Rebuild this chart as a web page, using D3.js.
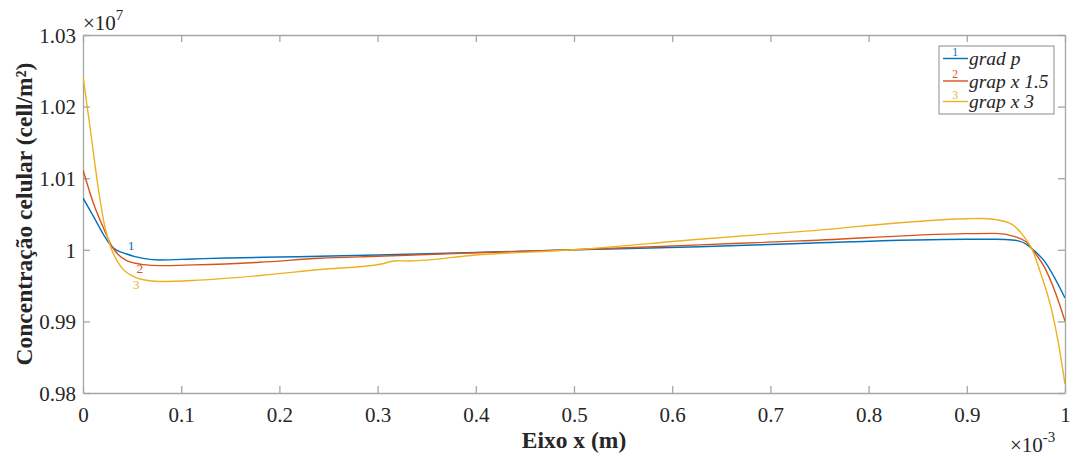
<!DOCTYPE html>
<html>
<head>
<meta charset="utf-8">
<script src="https://cdn.jsdelivr.net/npm/d3@7"></script>
<style>
  body { margin: 0; background: #fff; }
  svg text { font-family: "Liberation Serif", "Times New Roman", serif; fill: #262626; }
</style>
</head>
<body>
<div id="chart"></div>
<script>
// x in units of 1e-3 m, y in units of 1e7 cell/m2
var xTicks = [0, 0.1, 0.2, 0.3, 0.4, 0.5, 0.6, 0.7, 0.8, 0.9, 1];
var yTicks = [0.98, 0.99, 1, 1.01, 1.02, 1.03];
var seriesNames = ["grad p", "grap x 1.5", "grap x 3"];

var gradX = [0, 0.0105, 0.0207, 0.0292, 0.0445, 0.0614, 0.078, 0.112, 0.146, 0.2, 0.241, 0.3, 0.4, 0.5, 0.628, 0.73, 0.9, 0.929, 0.949, 0.963, 0.966, 0.98, 0.99, 1];
var gradY = [1.00724, 1.0047, 1.00217, 1.00047, 0.99941, 0.99881, 0.99858, 0.99872, 0.99885, 0.99899, 0.99909, 0.99927, 0.99962, 1.0, 1.00042, 1.00088, 1.00148, 1.00148, 1.00134, 1.00055, 1.00019, 0.99825, 0.99594, 0.99327];

var g15X = [0, 0.0105, 0.0207, 0.0292, 0.0445, 0.0614, 0.078, 0.112, 0.18, 0.241, 0.3, 0.4, 0.5, 0.628, 0.73, 0.9, 0.929, 0.949, 0.963, 0.966, 0.98, 0.99, 1];
var g15Y = [1.01115, 1.00655, 1.00309, 1.00055, 0.99848, 0.99793, 0.99779, 0.99789, 0.99826, 0.99881, 0.9991, 0.99958, 1.0, 1.00069, 1.00124, 1.00226, 1.0023, 1.00184, 1.00078, 1.00019, 0.99733, 0.99411, 0.99006];

var g3X = [0, 0.0085, 0.0153, 0.0221, 0.0289, 0.039, 0.0526, 0.0614, 0.078, 0.112, 0.18, 0.241, 0.304, 0.319, 0.332, 0.4, 0.5, 0.628, 0.73, 0.9, 0.915, 0.929, 0.946, 0.959, 0.966, 0.976, 0.986, 0.993, 1];
var g3Y = [1.02427, 1.01575, 1.00884, 1.00331, 1.0001, 0.99757, 0.99619, 0.99581, 0.99558, 0.99572, 0.99641, 0.99724, 0.99802, 0.99848, 0.99844, 0.99927, 1.0, 1.00148, 1.00254, 1.00434, 1.00438, 1.00424, 1.00355, 1.0017, 1.00019, 0.99641, 0.99181, 0.98721, 0.98122];

var colors = ["#0072BD", "#D95319", "#EDB120"];

var width = 1073, height = 456;
// plot box edges
var pLeft = 83, pRight = 1065, pTop = 35, pBottom = 393;

var svg = d3.select("#chart").append("svg")
  .attr("width", width)
  .attr("height", height);

var x = d3.scaleLinear().domain([0, 1]).range([pLeft, pRight]);
var y = d3.scaleLinear().domain([0.98, 1.03]).range([pBottom, pTop]);

var axisColor = "#a6a6a6";
var tickLen = 7;

// axes (box with ticks on all four sides)
var xAxis = svg.append("g")
  .attr("transform", "translate(0," + pBottom + ")")
  .call(d3.axisBottom(x).tickValues(xTicks).tickSizeInner(-tickLen).tickSizeOuter(0).tickFormat(d3.format("")));
var yAxis = svg.append("g")
  .attr("transform", "translate(" + pLeft + ",0)")
  .call(d3.axisLeft(y).tickValues(yTicks).tickSizeInner(-tickLen).tickSizeOuter(0).tickPadding(7).tickFormat(function(d) { return d3.format("")(+d.toFixed(2)); }));
svg.append("g")
  .attr("transform", "translate(0," + pTop + ")")
  .call(d3.axisTop(x).tickValues(xTicks).tickSizeInner(-tickLen).tickSizeOuter(0).tickFormat(""));
svg.append("g")
  .attr("transform", "translate(" + pRight + ",0)")
  .call(d3.axisRight(y).tickValues(yTicks).tickSizeInner(-tickLen).tickSizeOuter(0).tickFormat(""));

svg.selectAll(".domain, .tick line").attr("stroke", axisColor).attr("stroke-width", 1.3);
svg.selectAll("g").attr("font-family", null);
svg.selectAll(".tick text").attr("font-size", 21).attr("fill", "#262626")
  .style("font-family", "'Liberation Serif', serif");
xAxis.selectAll(".tick text").attr("y", 28.5).attr("dy", 0);
yAxis.selectAll(".tick text").attr("dy", "0.35em");

// exponent labels
var e7 = svg.append("text").attr("x", 83).attr("y", 30).attr("font-size", 21);
e7.append("tspan").text("\u00d710");
e7.append("tspan").attr("font-size", 15).attr("dy", -10).text("7");
var e3 = svg.append("text").attr("x", 1010).attr("y", 452).attr("font-size", 21);
e3.append("tspan").text("\u00d710");
e3.append("tspan").attr("font-size", 15).attr("dy", -10).text("-3");

// axis titles
svg.append("text")
  .attr("x", (pLeft + pRight) / 2).attr("y", 448)
  .attr("text-anchor", "middle")
  .attr("font-size", 23.5).attr("font-weight", "bold")
  .text("Eixo x (m)");
svg.append("text")
  .attr("transform", "translate(32," + ((pTop + pBottom) / 2) + ")rotate(-90)")
  .attr("text-anchor", "middle")
  .attr("font-size", 23.5).attr("font-weight", "bold")
  .text("Concentração celular (cell/m²)");

// lines
var series = [
  d3.zip(gradX, gradY),
  d3.zip(g15X, g15Y),
  d3.zip(g3X, g3Y)
];
var line = d3.line()
  .x(function(d) { return x(d[0]); })
  .y(function(d) { return y(d[1]); })
  .curve(d3.curveMonotoneX);

svg.append("defs").append("clipPath").attr("id", "clip")
  .append("rect").attr("x", pLeft).attr("y", pTop).attr("width", pRight - pLeft).attr("height", pBottom - pTop);

svg.append("g").attr("clip-path", "url(#clip)")
  .selectAll("path").data(series).enter()
  .append("path")
  .attr("d", line)
  .attr("fill", "none")
  .attr("stroke", function(d, i) { return colors[i]; })
  .attr("stroke-width", 1.4);

// inline curve labels
var lblX = [0.049, 0.058, 0.054];
var lblY = [0.99996, 0.99682, 0.99456];
svg.selectAll(".clbl").data(lblX).enter()
  .append("text")
  .attr("class", "clbl")
  .attr("x", function(d) { return x(d); })
  .attr("y", function(d, i) { return y(lblY[i]); })
  .attr("text-anchor", "middle")
  .attr("font-size", 13.5)
  .style("fill", function(d, i) { return colors[i]; })
  .text(function(d, i) { return i + 1; });

// legend
var lg = svg.append("g");
lg.append("rect")
  .attr("x", 939).attr("y", 46).attr("width", 115).attr("height", 68)
  .attr("fill", "#fff").attr("stroke", "#8c8c8c").attr("stroke-width", 1);
var rowY = [58.5, 81, 101.5];
seriesNames.forEach(function(name, i) {
  lg.append("line")
    .attr("x1", 943).attr("x2", 968)
    .attr("y1", rowY[i]).attr("y2", rowY[i])
    .attr("stroke", colors[i]).attr("stroke-width", 1.4);
  lg.append("text")
    .attr("x", 955).attr("y", rowY[i] - 3)
    .attr("text-anchor", "middle")
    .attr("font-size", 11.5)
    .style("fill", colors[i])
    .text(i + 1);
  lg.append("text")
    .attr("x", 969).attr("y", rowY[i] + 6.5)
    .attr("font-size", 19.5).attr("font-style", "italic")
    .text(name);
});
</script>
</body>
</html>
